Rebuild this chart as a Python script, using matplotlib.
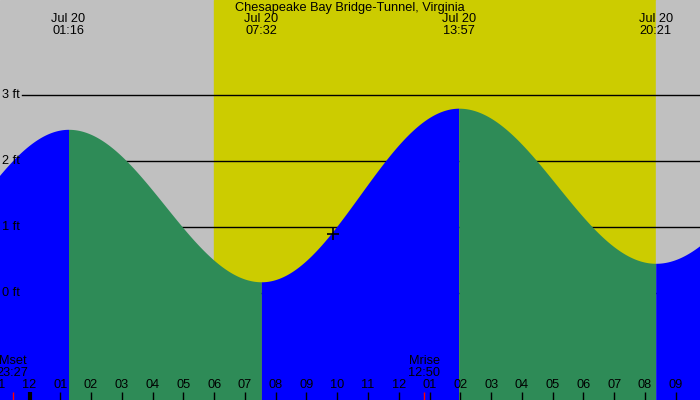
"""
tide_chart.py — Chesapeake Bay Bridge-Tunnel 潮汐图 (Jul 20)
"""

import matplotlib
matplotlib.use("Agg")
import matplotlib.pyplot as plt
import numpy as np


# 潮汐极值（小时，相对 Jul 20 00:00；高度 ft），首尾两个为图外的前后极值
EXT_HOURS = [-5.0, 1.267, 7.533, 13.95, 20.35, 26.6]
EXT_FEET = [0.02, 2.48, 0.17, 2.80, 0.45, 2.60]
EVENT_LABELS = ["01:16", "07:32", "13:57", "20:21"]
EVENT_DATE = "Jul 20"

SUNRISE = 6.0
SUNSET = 20.35

MOON_HOURS = [-0.55, 12.83]
MOON_LABELS = ["Mset\n23:27", "Mrise\n12:50"]

HOUR_TICKS = list(range(-1, 22))
HOUR_LABELS = ["11", "12", "01", "02", "03", "04", "05", "06", "07", "08",
               "09", "10", "11", "12", "01", "02", "03", "04", "05", "06",
               "07", "08", "09"]

FEET_LEVELS = [0, 1, 2, 3]
NOW_HOUR, NOW_FEET = 9.86, 0.89

TITLE = "Chesapeake Bay Bridge-Tunnel, Virginia"

GRAY = "#c0c0c0"
DAY = "#cccc00"
RISE = "#0000ff"
FALL = "#2e8b57"

X0, X1 = -0.959, 21.79
Y0, Y1 = -1.621, 4.439
FS = 9.2


def tide_segment(t0, h0, t1, h1, n=200):
    """两个极值之间按余弦曲线连接。"""
    t = np.linspace(t0, t1, n)
    f = (1 - np.cos(np.pi * (t - t0) / (t1 - t0))) / 2
    return t, h0 + (h1 - h0) * f


def main() -> None:
    plt.rcParams["font.family"] = ["Liberation Sans", "DejaVu Sans"]
    fig = plt.figure(figsize=(7, 4), dpi=100)
    ax = fig.add_axes([0, 0, 1, 1])
    ax.set_xlim(X0, X1)
    ax.set_ylim(Y0, Y1)
    ax.axis("off")

    # 昼夜背景
    ax.axvspan(X0, SUNRISE, color=GRAY, zorder=0)
    ax.axvspan(SUNRISE, SUNSET, color=DAY, zorder=0)
    ax.axvspan(SUNSET, X1, color=GRAY, zorder=0)

    for lv in FEET_LEVELS:
        ax.axhline(lv, xmin=22 / 700, xmax=1, color="black", lw=1, zorder=1)

    # 潮位曲线：涨潮蓝色，落潮绿色
    for i in range(len(EXT_HOURS) - 1):
        t, h = tide_segment(EXT_HOURS[i], EXT_FEET[i],
                            EXT_HOURS[i + 1], EXT_FEET[i + 1])
        color = RISE if EXT_FEET[i + 1] > EXT_FEET[i] else FALL
        ax.fill_between(t, Y0 - 1, h, color=color, lw=0, zorder=2)

    for lv in FEET_LEVELS:
        ax.text(X0 + 0.06, lv, f"{lv} ft", ha="left", va="center",
                fontsize=FS, zorder=5)

    ax.plot(NOW_HOUR, NOW_FEET, marker="+", ms=9, mew=1.2, color="black",
            zorder=6)

    # 顶部：标题与潮汐时刻
    ax.text(0.5, 1 - 8 / 400, TITLE, transform=ax.transAxes,
            ha="center", va="center", fontsize=FS, zorder=5)
    for t, lab in zip(EXT_HOURS[1:-1], EVENT_LABELS):
        ax.text(t, Y1 - 19 / 66, EVENT_DATE, ha="center", va="center",
                fontsize=FS, zorder=5)
        ax.text(t, Y1 - 31 / 66, lab, ha="center", va="center",
                fontsize=FS, zorder=5)

    # 底部：小时刻度
    tick_top = Y0 + 8 / 66
    for t, lab in zip(HOUR_TICKS, HOUR_LABELS):
        lw = 3 if t == 0 else 1
        ax.plot([t, t], [Y0, tick_top], color="black", lw=lw, zorder=5,
                solid_capstyle="butt")
        ax.text(t, Y0 + 15 / 66, lab, ha="center", va="center",
                fontsize=FS, zorder=5)

    for t, lab in zip(MOON_HOURS, MOON_LABELS):
        ax.plot([t, t], [Y0, tick_top], color="red", lw=1, zorder=5,
                solid_capstyle="butt")
        ax.text(t, Y0 + 33 / 66, lab, ha="center", va="center",
                fontsize=FS, linespacing=1.0, zorder=5)

    fig.savefig("out.png", dpi=100)
    plt.close(fig)


if __name__ == "__main__":
    main()
